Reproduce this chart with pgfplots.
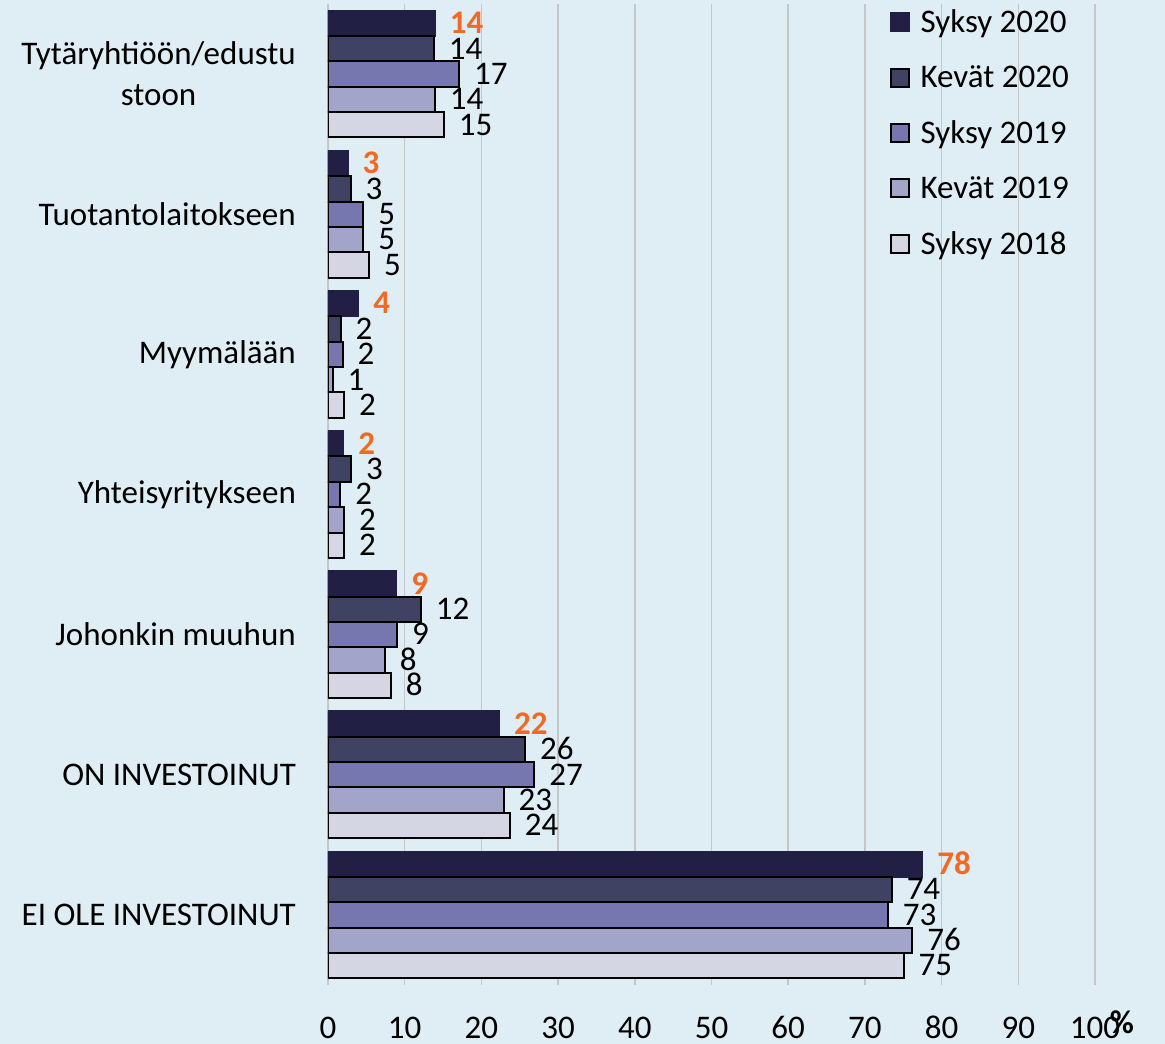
\documentclass[border=0pt]{standalone}
\usepackage{fontspec}
\setmainfont{Carlito}
\usepackage{pgfplots}
\pgfplotsset{compat=1.18}
\usepackage{pgfplotstable}
\definecolor{bgc}{HTML}{DFEDF5}
\definecolor{gridc}{HTML}{C4C6C8}
\definecolor{cA}{HTML}{211F43}
\definecolor{cB}{HTML}{404263}
\definecolor{cC}{HTML}{7677AF}
\definecolor{cD}{HTML}{A3A4CA}
\definecolor{cE}{HTML}{D4D6E3}
\definecolor{orangec}{HTML}{F06A23}
\newcommand{\fnt}{\fontsize{33}{41}\selectfont}

\pgfplotstableread{
x y lab
13.95 0 14
2.57 1 3
3.95 2 4
2.0 3 2
8.9 4 9
22.3 5 22
77.5 6 78
}\tA
\pgfplotstableread{
x y lab
13.8 0 14
2.95 1 3
1.65 2 2
3.0 3 3
12.1 4 12
25.7 5 26
73.5 6 74
}\tB
\pgfplotstableread{
x y lab
17.1 0 17
4.6 1 5
1.9 2 2
1.6 3 2
9.0 4 9
26.9 5 27
73.0 6 73
}\tC
\pgfplotstableread{
x y lab
13.95 0 14
4.6 1 5
0.6 2 1
2.1 3 2
7.4 4 8
22.9 5 23
76.2 6 76
}\tD
\pgfplotstableread{
x y lab
15.1 0 15
5.35 1 5
2.1 2 2
2.1 3 2
8.2 4 8
23.7 5 24
75.05 6 75
}\tE

\begin{document}
\begin{tikzpicture}[x=1pt,y=1pt]
\useasboundingbox (0,0) rectangle (1165,1044);
\fill[bgc] (0,0) rectangle (1165,1044);
\begin{axis}[
  at={(328pt,59pt)}, anchor=south west,
  scale only axis, width=767pt, height=981pt,
  xmin=0, xmax=100, ymin=-0.5, ymax=6.5, y dir=reverse,
  xbar, bar width=0.181,
  axis line style={draw=none},
  xtick={0,10,...,100},
  xmajorgrids, grid style={draw=gridc, line width=1.5pt},
  major tick length=0pt,
  ytick={0,1,2,3,4,5,6},
  yticklabels={{Tytäryhtiöön/edustu\\stoon},Tuotantolaitokseen,Myymälään,Yhteisyritykseen,Johonkin muuhun,ON INVESTOINUT,EI OLE INVESTOINUT},
  yticklabel style={align=center, inner sep=0pt, xshift=-32pt},
  xticklabel style={inner sep=0pt, anchor=base, yshift=-53pt},
  tick label style={font=\fnt},
  /pgf/number format/assume math mode=true,
  point meta=explicit symbolic,
  nodes near coords,
  nodes near coords style={anchor=base west, inner sep=0pt, xshift=14pt, yshift=-10.3pt, font=\fnt, text=black},
  legend image code/.code={\draw[#1] (0pt,-9pt) rectangle (18pt,9pt); \path (23pt,0pt);},
  legend cell align=left,
  legend style={at={(axis description cs:0.966,0.994)}, anchor=north east,
    draw=none, fill=none, inner sep=0pt, row sep=31.5pt, font=\fnt,
    nodes={inner sep=0pt},
    /tikz/every odd column/.append style={column sep=6pt}},
]
\addplot[fill=cA, draw=cA, line width=2pt, bar shift=-0.362,
  nodes near coords style={text=orangec, font=\fnt\bfseries}]
  table[x=x,y=y,meta=lab]{\tA};
\addlegendentry{Syksy 2020}
\addplot[fill=cB, draw=black, line width=2pt, bar shift=-0.181]
  table[x=x,y=y,meta=lab]{\tB};
\addlegendentry{Kevät 2020}
\addplot[fill=cC, draw=black, line width=2pt, bar shift=0]
  table[x=x,y=y,meta=lab]{\tC};
\addlegendentry{Syksy 2019}
\addplot[fill=cD, draw=black, line width=2pt, bar shift=0.181]
  table[x=x,y=y,meta=lab]{\tD};
\addlegendentry{Kevät 2019}
\addplot[fill=cE, draw=black, line width=2pt, bar shift=0.362]
  table[x=x,y=y,meta=lab]{\tE};
\addlegendentry{Syksy 2018}
\end{axis}
\node[font=\fnt\bfseries, inner sep=0pt] at (1122,22) {\%};
\end{tikzpicture}
\end{document}
